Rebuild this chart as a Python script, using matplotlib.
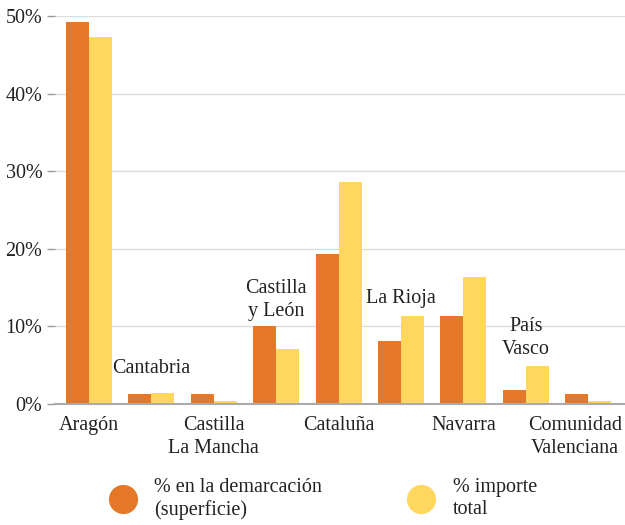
import matplotlib
matplotlib.use("Agg")
import matplotlib.pyplot as plt
from matplotlib.lines import Line2D
from matplotlib.transforms import ScaledTranslation
import numpy as np

regiones = ["Aragón", "Cantabria", "Castilla\nLa Mancha", "Castilla\ny León", "Cataluña",
            "La Rioja", "Navarra", "País\nVasco", "Comunidad\nValenciana"]
superficie = [49.2, 1.3, 1.3, 10.0, 19.3, 8.1, 11.3, 1.8, 1.3]
importe = [47.3, 1.4, 0.4, 7.1, 28.6, 11.3, 16.4, 4.9, 0.4]
yticks = [0, 10, 20, 30, 40, 50]

naranja = "#E57828"
amarillo = "#FFD75F"
texto = "#222222"

plt.rcParams['font.family'] = ['Liberation Serif', 'DejaVu Serif']
plt.rcParams['font.size'] = 14.5

fig = plt.figure(figsize=(6.25, 5.25), dpi=100)
ax = fig.add_axes([0.088, 0.2305, 0.912, 0.739])

x = np.arange(len(regiones))
w = 0.37
ax.bar(x - w/2, superficie, w, color=naranja, zorder=3)
ax.bar(x + w/2, importe, w, color=amarillo, zorder=3)

ax.set_xlim(-0.545, 8.59)
ax.set_ylim(0, 50)
ax.set_yticks(yticks)
ax.set_yticklabels([f"{t}%" for t in yticks], color=texto)
ax.grid(axis='y', color='#dddddd', linewidth=1, zorder=0)
ax.tick_params(axis='y', length=6, color='#999999', pad=3, width=1)
for s in ['top', 'right', 'left']:
    ax.spines[s].set_visible(False)
ax.spines['bottom'].set_color('#aaaaaa')
ax.spines['bottom'].set_linewidth(1.5)
ax.spines['bottom'].set_zorder(4)

# etiquetas alternas: abajo las pares, sobre las barras las impares
ax.set_xticks(x[::2])
ax.set_xticklabels([regiones[i] for i in x[::2]], color=texto, linespacing=1.25)
ax.tick_params(axis='x', length=0, pad=9)
ult = ax.get_xticklabels()[-1]
ult.set_transform(ult.get_transform() + ScaledTranslation(-0.13, 0, fig.dpi_scale_trans))

desplaz = {1: 11, 3: 4, 5: 6, 7: 5}
for i in x[1::2]:
    ax.annotate(regiones[i], (i, max(superficie[i], importe[i])), xytext=(0, desplaz[i]),
                textcoords='offset points', ha='center', va='bottom',
                color=texto, linespacing=1.3)

handles = [Line2D([], [], marker='o', linestyle='none', markersize=20, color=naranja),
           Line2D([], [], marker='o', linestyle='none', markersize=20, color=amarillo)]
fig.legend(handles, ["% en la demarcación\n(superficie)", "% importe\ntotal"],
           loc='center left', bbox_to_anchor=(0.172, 0.05), ncol=2, frameon=False,
           handlelength=1.5, handletextpad=0.8, columnspacing=4.2,
           borderpad=0, borderaxespad=0, labelcolor=texto, labelspacing=0)

fig.savefig("out.png", dpi=100)
